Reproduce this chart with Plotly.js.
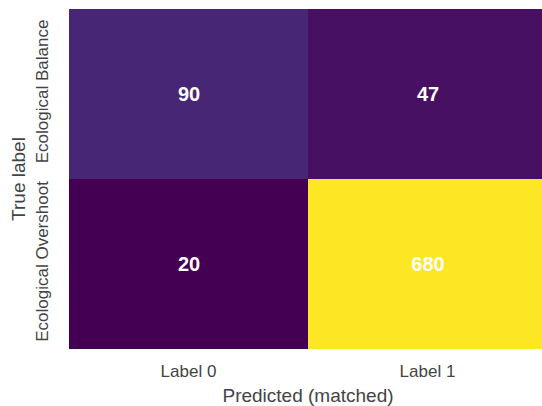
<!DOCTYPE html>
<html>
<head>
<meta charset="utf-8">
<script src="https://cdn.plot.ly/plotly-3.0.1.min.js"></script>
<style>
  html, body { margin: 0; padding: 0; overflow: hidden; background: #fff; }
  #chart { width: 547px; height: 406px; }
</style>
</head>
<body>
<div id="chart"></div>
<script>
// Confusion matrix: rows are true classes, columns are predicted labels
const predictedLabels = ['Label 0', 'Label 1'];
const trueLabels = ['Ecological Balance', 'Ecological Overshoot'];
const rowBalance = [90, 47];
const rowOvershoot = [20, 680];

const counts = [rowBalance, rowOvershoot];

const FONT = 'Liberation Sans, Arial, sans-serif';
const TEXT_GREY = '#444444';

const trace = {
  type: 'heatmap',
  x: predictedLabels,
  y: trueLabels,
  z: counts,
  colorscale: 'Viridis',
  showscale: false,
  texttemplate: '%{z}',
  textfont: { family: FONT, size: 20, color: '#ffffff', weight: 'bold' },
  hoverinfo: 'skip'
};

const layout = {
  width: 547,
  height: 406,
  margin: { l: 68.5, r: 0, t: 9.3, b: 56.7 },
  paper_bgcolor: '#ffffff',
  plot_bgcolor: '#ffffff',
  font: { family: FONT, color: TEXT_GREY },
  xaxis: {
    type: 'category',
    showgrid: false,
    zeroline: false,
    ticks: '',
    tickfont: { size: 17, color: TEXT_GREY },
    ticklabelstandoff: 10,
    title: { text: 'Predicted (matched)', font: { size: 19, color: TEXT_GREY }, standoff: 11 }
  },
  yaxis: {
    type: 'category',
    autorange: 'reversed',
    showgrid: false,
    zeroline: false,
    ticks: '',
    tickangle: -90,
    tickfont: { size: 17, color: TEXT_GREY },
    ticklabelstandoff: 17,
    title: { text: 'True label', font: { size: 19, color: TEXT_GREY }, standoff: 1 }
  }
};

Plotly.newPlot('chart', [trace], layout, { displayModeBar: false, staticPlot: true });
</script>
</body>
</html>
